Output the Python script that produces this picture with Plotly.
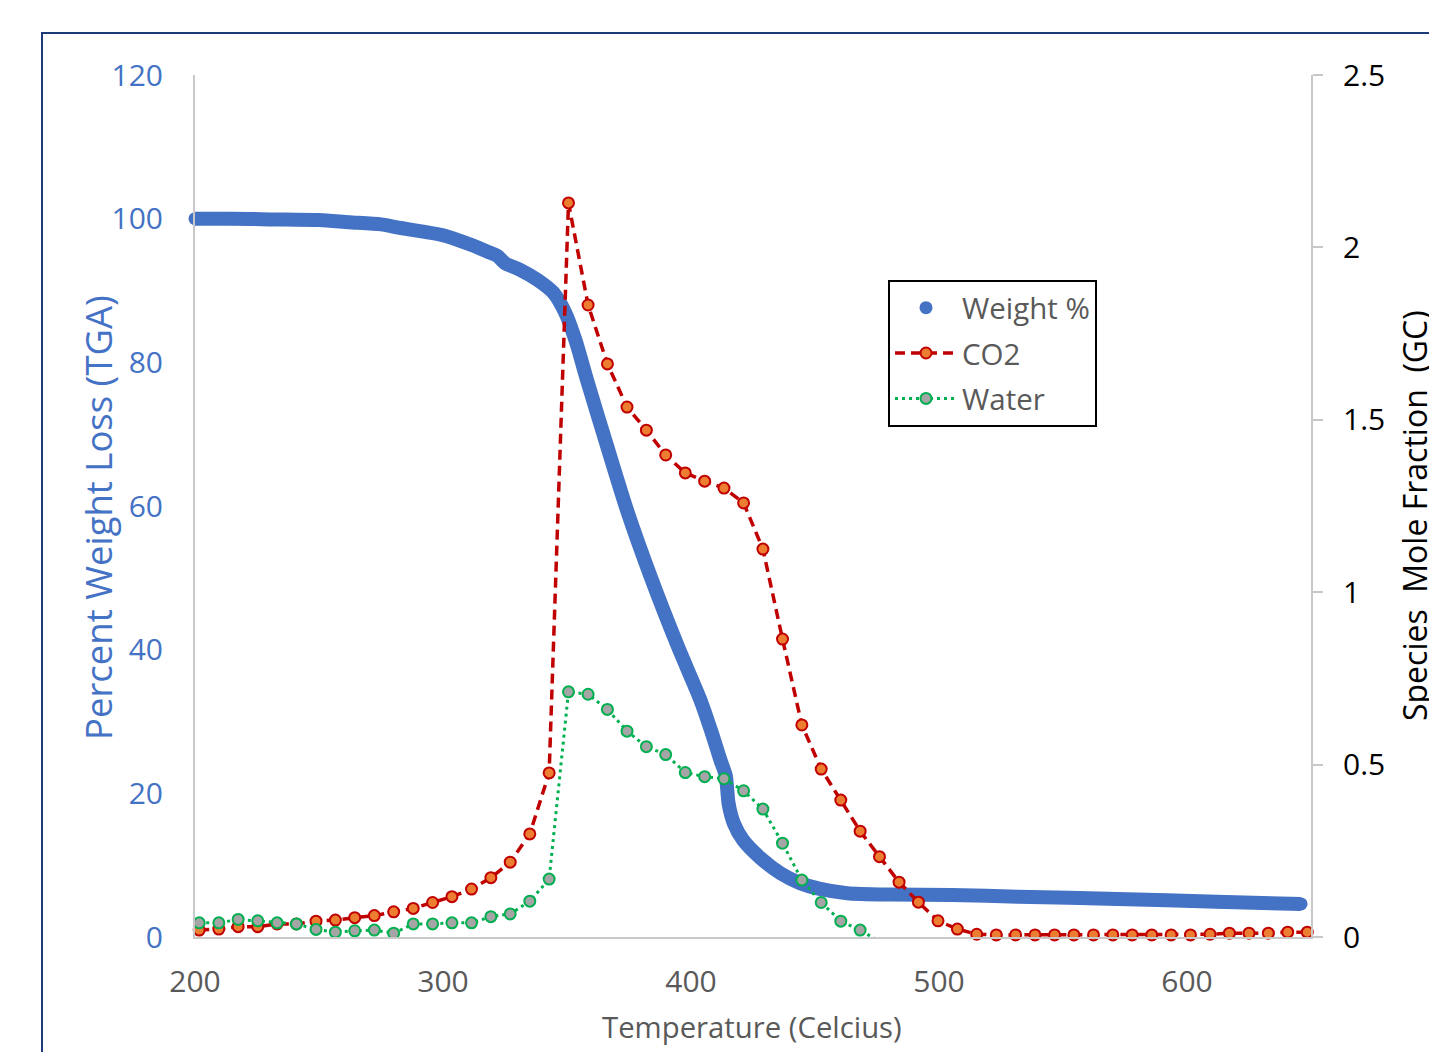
import plotly.graph_objects as go

# ---------------- data ----------------
# TGA weight curve (temperature in C, percent weight)
T_WEIGHT = [200, 215, 230, 250, 262, 275, 283, 292, 300, 311, 318, 322, 325, 331, 338,
            344.5, 349.3, 353.4, 358.1, 366.2, 374.2, 384.0, 395.0, 403.8, 408.6, 411.9,
            414.0, 415.2, 417.3, 421.0, 428.0, 436.0, 444.0, 452.0, 463.0, 480.0, 505.0,
            532.0, 572.0, 612.0, 646.0]
WEIGHT = [100.0, 100.0, 99.9, 99.8, 99.5, 99.2, 98.7, 98.2, 97.7, 96.4, 95.4, 94.8, 93.8,
          92.9, 91.5, 89.7, 86.9, 83.1, 77.5, 68.3, 59.4, 49.9, 40.2, 33.0, 28.2, 24.6,
          22.5, 18.5, 15.8, 13.5, 11.0, 8.9, 7.5, 6.7, 6.1, 5.9, 5.85, 5.6, 5.3, 4.9, 4.6]

# GC sampling temperatures (C)
T_GC = [201.7, 209.6, 217.4, 225.3, 233.1, 240.9, 248.8, 256.6, 264.4, 272.3, 280.1, 288.0,
        295.8, 303.6, 311.5, 319.3, 327.1, 335.0, 342.8, 350.6, 358.5, 366.3, 374.2, 382.0,
        389.8, 397.7, 405.5, 413.3, 421.2, 429.0, 436.9, 444.7, 452.5, 460.4, 468.2, 476.0,
        483.9, 491.7, 499.6, 507.4, 515.2, 523.1, 530.9, 538.7, 546.6, 554.4, 562.3, 570.1,
        577.9, 585.8, 593.6, 601.4, 609.3, 617.1, 625.0, 632.8, 640.6, 648.5]

CO2 = [0.020, 0.023, 0.030, 0.030, 0.038, 0.038, 0.046, 0.049, 0.056, 0.062, 0.073, 0.083,
       0.100, 0.117, 0.139, 0.172, 0.217, 0.299, 0.476, 2.129, 1.833, 1.662, 1.537, 1.470,
       1.398, 1.346, 1.322, 1.302, 1.259, 1.125, 0.864, 0.615, 0.487, 0.397, 0.307, 0.233,
       0.159, 0.101, 0.047, 0.023, 0.008, 0.006, 0.006, 0.006, 0.006, 0.006, 0.006, 0.006,
       0.006, 0.006, 0.006, 0.006, 0.008, 0.011, 0.011, 0.011, 0.014, 0.014]

WATER = [0.041, 0.041, 0.051, 0.047, 0.041, 0.038, 0.022, 0.014, 0.018, 0.020, 0.011, 0.038,
         0.038, 0.041, 0.041, 0.059, 0.067, 0.104, 0.168, 0.711, 0.704, 0.660, 0.597, 0.552,
         0.529, 0.477, 0.465, 0.459, 0.424, 0.371, 0.272, 0.165, 0.100, 0.046, 0.020, -0.013]

X_TICKS = [200, 300, 400, 500, 600]
Y_TICKS = [0, 20, 40, 60, 80, 100, 120]
Y2_TICKS = [0, 0.5, 1, 1.5, 2, 2.5]
Y2_TICKTEXT = ["0", "0.5", "1", "1.5", "2", "2.5"]

# ---------------- style ----------------
FONT = "Open Sans"
BLUE = "#4472C4"
RED = "#C00000"
ORANGE = "#ED7D31"
GREEN = "#00B050"
GRAY_MK = "#A5A5A5"
AXIS_GRAY = "#C8C8C8"
TEXT_GRAY = "#595959"

fig = go.Figure()

fig.add_trace(go.Scatter(
    x=T_WEIGHT, y=WEIGHT, mode="lines",
    line=dict(color=BLUE, width=14, simplify=False, shape="spline", smoothing=0.7),
    showlegend=False, legendgroup="w", hoverinfo="skip"))
fig.add_trace(go.Scatter(
    x=T_WEIGHT, y=WEIGHT, mode="markers", name="Weight %", legendgroup="w",
    marker=dict(color=BLUE, size=13), cliponaxis=False))

fig.add_trace(go.Scatter(
    x=T_GC, y=CO2, yaxis="y2", mode="lines+markers", name="CO2", legendgroup="c",
    line=dict(color=RED, width=3.5, dash="10px,6px"),
    marker=dict(size=11, color=ORANGE, line=dict(color=RED, width=2)),
    cliponaxis=False))

fig.add_trace(go.Scatter(
    x=T_GC[:len(WATER)], y=WATER, yaxis="y2", mode="lines+markers", name="Water",
    legendgroup="h",
    line=dict(color=GREEN, width=3, dash="3px,4px"),
    marker=dict(size=11, color=GRAY_MK, line=dict(color=GREEN, width=2)),
    cliponaxis=True))

# target positions in page pixels (page has an 8px body margin)
OFF = 8
L, R, T, B = 195, 1311, 75, 937
W_PX, H_PX = 1437 - OFF, 1052 - OFF
pw, ph = R - L, B - T


def px_x(px):
    return (px - L) / pw


def px_y(py):
    return (B - py) / ph


fig.update_layout(
    width=W_PX, height=H_PX,
    margin=dict(l=L - OFF, r=W_PX - (R - OFF), t=T - OFF, b=H_PX - (B - OFF), pad=0),
    plot_bgcolor="white", paper_bgcolor="white",
    font=dict(family=FONT, size=30, color=TEXT_GRAY),
    xaxis=dict(range=[200, 650], tickvals=X_TICKS, showgrid=False, zeroline=False,
               showline=True, linecolor=AXIS_GRAY, linewidth=2, ticks="",
               tickfont=dict(size=30, color=TEXT_GRAY), ticklabelstandoff=17),
    yaxis=dict(range=[0, 120], tickvals=Y_TICKS, showgrid=False, zeroline=False,
               showline=True, linecolor=AXIS_GRAY, linewidth=2, ticks="",
               tickfont=dict(size=30, color=BLUE), ticklabelstandoff=24),
    yaxis2=dict(range=[0, 2.5], tickvals=Y2_TICKS, ticktext=Y2_TICKTEXT,
                overlaying="y", side="right", showgrid=False, zeroline=False,
                showline=True, linecolor=AXIS_GRAY, linewidth=2,
                ticks="outside", ticklen=10, tickwidth=2, tickcolor=AXIS_GRAY,
                tickfont=dict(size=30, color="black"), ticklabelstandoff=14),
    legend=dict(x=px_x(888), y=px_y(280), xanchor="left", yanchor="top",
                bgcolor="white", bordercolor="black", borderwidth=2,
                font=dict(size=29.5, color=TEXT_GRAY), traceorder="grouped",
                tracegroupgap=4, itemwidth=62),
    showlegend=True,
)

fig.add_annotation(text="Percent Weight Loss (TGA)", xref="paper", yref="paper",
                   x=px_x(98), y=px_y(518), textangle=-90, showarrow=False,
                   xanchor="center", yanchor="middle",
                   font=dict(family=FONT, size=36.5, color=BLUE))
fig.add_annotation(text="Species\u00a0\u00a0Mole Fraction\u00a0\u00a0(GC)", xref="paper",
                   yref="paper", x=px_x(1414), y=px_y(516), textangle=-90,
                   showarrow=False, xanchor="center", yanchor="middle",
                   font=dict(family=FONT, size=32, color="black"))
fig.add_annotation(text="Temperature (Celcius)", xref="paper", yref="paper",
                   x=px_x(752), y=px_y(1027), showarrow=False,
                   xanchor="center", yanchor="middle",
                   font=dict(family=FONT, size=29.3, color=TEXT_GRAY))

# outer chart-area frame (extends beyond the cropped right/bottom edges)
fig.add_shape(type="rect", xref="paper", yref="paper",
              x0=px_x(42), y0=px_y(1200), x1=px_x(1600), y1=px_y(33),
              line=dict(color="#1F3A7A", width=2), layer="below")

fig.write_html("out.html")
